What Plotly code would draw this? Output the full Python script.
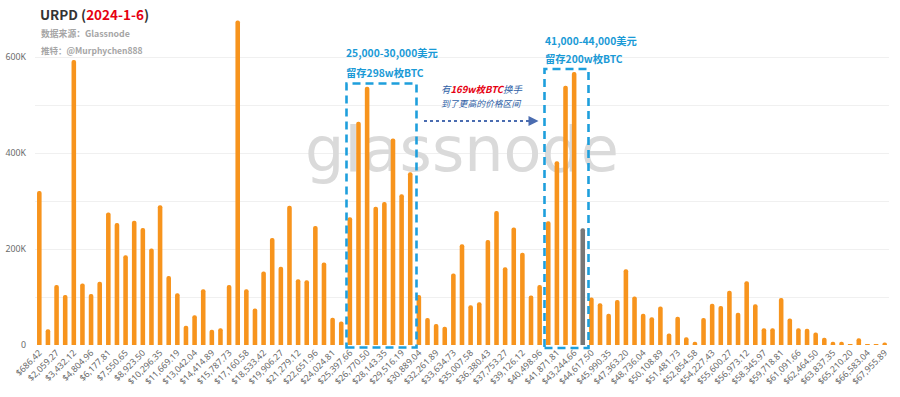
import plotly.graph_objects as go

# ---------------- data ----------------
# price-bin labels shown on the x axis (every other bin is labelled)
tick_labels = [
    "$686.42", "$2,059.27", "$3,432.12", "$4,804.96", "$6,177.81", "$7,550.65",
    "$8,923.50", "$10,296.35", "$11,669.19", "$13,042.04", "$14,414.89", "$15,787.73",
    "$17,160.58", "$18,533.42", "$19,906.27", "$21,279.12", "$22,651.96", "$24,024.81",
    "$25,397.66", "$26,770.50", "$28,143.35", "$29,516.19", "$30,889.04", "$32,261.89",
    "$33,634.73", "$35,007.58", "$36,380.43", "$37,753.27", "$39,126.12", "$40,498.96",
    "$41,871.81", "$43,244.66", "$44,617.50", "$45,990.35", "$47,363.20", "$48,736.04",
    "$50,108.89", "$51,481.73", "$52,854.58", "$54,227.43", "$55,600.27", "$56,973.12",
    "$58,345.97", "$59,718.81", "$61,091.66", "$62,464.50", "$63,837.35", "$65,210.20",
    "$66,583.04", "$67,955.89",
]

# BTC supply per price bin (thousands of BTC)
supply_k = [
    321, 33, 125, 104, 594, 128, 106, 132, 276, 254,
    187, 259, 244, 201, 291, 144, 108, 40, 62, 116,
    32, 35, 125, 676, 116, 76, 153, 223, 163, 290,
    137, 135, 248, 172, 57, 49, 266, 465, 538, 288,
    298, 430, 314, 360, 104, 56, 44, 38, 149, 210,
    83, 89, 219, 279, 162, 245, 192, 103, 125, 258,
    383, 540, 569, 243, 99, 87, 65, 94, 158, 101,
    65, 58, 80, 24, 59, 16, 7, 56, 86, 81,
    113, 67, 133, 85, 35, 35, 98, 55, 35, 34,
    26, 15, 7, 7, 2, 14, 2, 2, 5,
]

current_price_bin = 63          # bin drawn in grey (current price)

y_tick_vals = [0, 100000, 200000, 300000, 400000, 500000, 600000, 700000]
y_tick_text = ["0", "", "200K", "", "400K", "", "600K", ""]

# ---------------- build categories ----------------
def _num(s):
    return float(s.replace("$", "").replace(",", ""))

categories = []
for i, lab in enumerate(tick_labels):
    categories.append(lab)
    if i + 1 < len(tick_labels):
        mid = (_num(lab) + _num(tick_labels[i + 1])) / 2
        categories.append("${:,.2f}".format(mid))

values = [v * 1000 for v in supply_k]
colors = ["#777777" if i == current_price_bin else "#f7941d" for i in range(len(values))]

# ---------------- layout helpers (pixel -> paper) ----------------
W, H = 900, 397
ML, MR, MT, MB = 35, 11, 9, 52
PW = W - ML - MR
PH = H - MT - MB


def px(x):
    return (x - ML) / PW


def py(y):
    return (H - MB - y) / PH


FONT = "Noto Sans CJK SC, Noto Sans, sans-serif"

fig = go.Figure()

# watermark (on the base subplot, below the bars)
fig.add_trace(go.Scatter(
    x=[0.5], y=[py(155)], mode="text", text=["glassnode"],
    textfont=dict(size=62, color="#dadada", family="DejaVu Sans, sans-serif"),
    textposition="middle center", hoverinfo="skip", showlegend=False,
    xaxis="x", yaxis="y",
))

# bars on the overlaying subplot
fig.add_trace(go.Bar(
    x=categories, y=values, marker=dict(color=colors, line=dict(width=0), cornerradius=2),
    xaxis="x2", yaxis="y2", showlegend=False, hoverinfo="x+y",
))

axis_font = dict(family="Noto Sans, sans-serif", size=8.8, color="#6a6a6a")

fig.update_layout(
    template="none",
    width=W, height=H,
    margin=dict(l=ML, r=MR, t=MT, b=MB, autoexpand=False),
    paper_bgcolor="white", plot_bgcolor="white",
    bargap=0.47,
    xaxis=dict(range=[0, 1], visible=False, fixedrange=True, automargin=False),
    yaxis=dict(range=[0, 1], visible=False, fixedrange=True, automargin=False),
    xaxis2=dict(
        type="category", overlaying="x", anchor="y2", side="bottom",
        range=[-0.5, len(categories) - 0.5], automargin=False,
        tickmode="array", tickvals=tick_labels, ticktext=tick_labels,
        tickangle=-45, tickfont=axis_font, showgrid=False, showline=False,
        ticks="", zeroline=False,
    ),
    yaxis2=dict(
        overlaying="y", anchor="x2", side="left", automargin=False,
        range=[0, 700000], tickmode="array", tickvals=y_tick_vals, ticktext=y_tick_text,
        tickfont=axis_font, showgrid=True, gridcolor="#f0f0f0", gridwidth=1,
        zeroline=False, showline=False, ticks="", ticklabelstandoff=8,
    ),
    font=dict(family=FONT),
)

# white block behind the title (hides gridlines, below the bars)
fig.add_shape(type="rect", xref="x2", yref="y2", x0=-0.5, x1=16.5, y0=590000, y1=700000,
              fillcolor="white", line=dict(width=0), layer="below")

# dashed boxes
box_line = dict(color="#1e9fdc", width=2.6, dash="8px,5px")
fig.add_shape(type="rect", xref="paper", yref="paper",
              x0=px(346.5), x1=px(416.5), y0=py(347.5), y1=py(83.5),
              line=box_line, fillcolor="rgba(0,0,0,0)", layer="above")
fig.add_shape(type="rect", xref="paper", yref="paper",
              x0=px(544.5), x1=px(588.5), y0=py(348), y1=py(69),
              line=box_line, fillcolor="rgba(0,0,0,0)", layer="above")

# dotted arrow
fig.add_shape(type="line", xref="paper", yref="paper",
              x0=px(424), x1=px(533), y0=py(121), y1=py(121),
              line=dict(color="#4a6cb0", width=2, dash="dot"), layer="above")
fig.add_annotation(xref="paper", yref="paper", x=px(538.5), y=py(121), text="",
                   showarrow=True, arrowhead=2, arrowsize=1, arrowwidth=2,
                   arrowcolor="#4a6cb0", ax=-10, ay=0)


def label(x, y, text, size, color, anchor="left"):
    fig.add_annotation(xref="paper", yref="paper", x=px(x), y=py(y), text=text,
                       showarrow=False, xanchor=anchor, yanchor="middle",
                       borderpad=0, font=dict(size=size, color=color, family=FONT))


# title block
label(39, 14, "<b>URPD (<span style='color:#e60012'>2024-1-6</span>)</b>", 13.5, "#333333")
label(40, 34, "<b>数据来源：Glassnode</b>", 8.8, "#a6a6a6")
label(40, 50, "<b>推特：@Murphychen888</b>", 8.5, "#a6a6a6")

# box captions
label(345, 53, "<b>25,000-30,000美元</b>", 10.3, "#1a9ad6")
label(345, 72, "<b>留存298w枚BTC</b>", 10.3, "#1a9ad6")
label(544, 40, "<b>41,000-44,000美元</b>", 10.3, "#1a9ad6")
label(544, 58, "<b>留存200w枚BTC</b>", 10.3, "#1a9ad6")

# arrow caption
label(440, 89, "<i>有<span style='color:#e60012'><b>169w枚BTC</b></span>换手</i>", 9.5, "#2f5fa6")
label(440, 103, "<i>到了更高的价格区间</i>", 8.8, "#2f5fa6")

# remove the browser's default page margin so the figure sits at (0, 0)
fig.write_html("out.html", config={"displayModeBar": False},
               post_script="document.body.style.margin='0';")
